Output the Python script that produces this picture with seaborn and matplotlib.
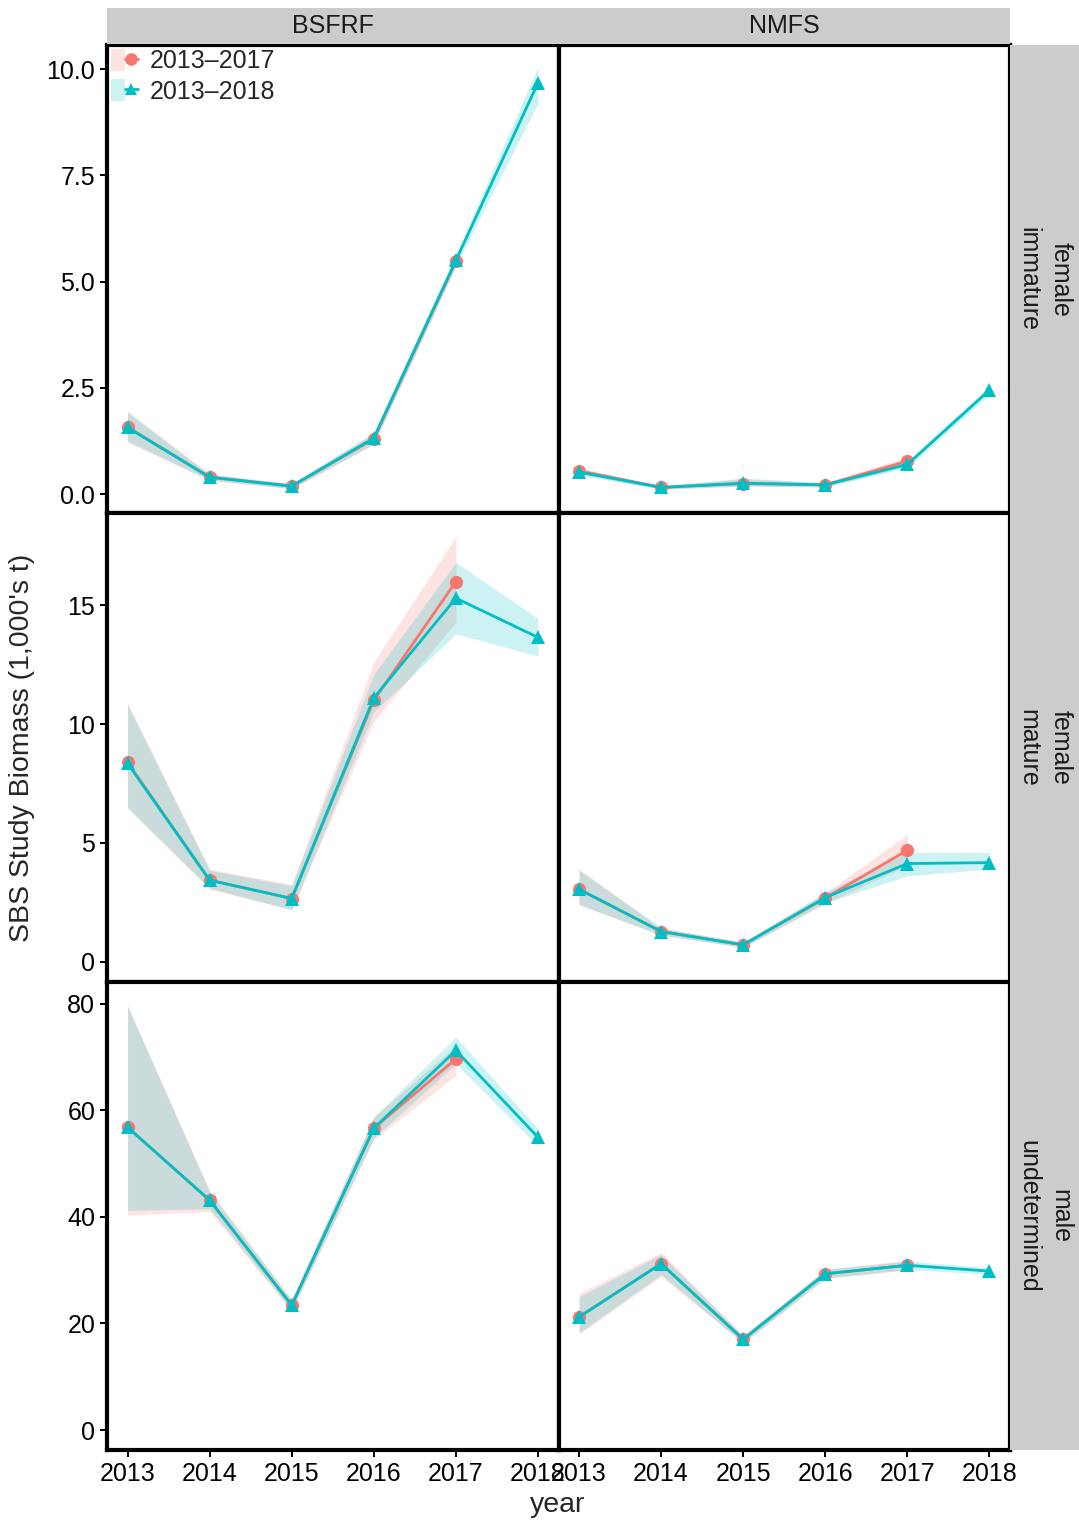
import pandas as pd
import seaborn as sns
import matplotlib.pyplot as plt
from matplotlib.lines import Line2D
from matplotlib.patches import Patch
from matplotlib.legend_handler import HandlerTuple
from matplotlib.ticker import FormatStrFormatter

# facets / categories
years = [2013, 2014, 2015, 2016, 2017, 2018]
surveys = ["BSFRF", "NMFS"]
groups = ["female\nimmature", "female\nmature", "male\nundetermined"]
periods = ["2013\u20132017", "2013\u20132018"]

# female immature, BSFRF
imm_bsfrf_17 = [1.58, 0.40, 0.19, 1.30, 5.48]
imm_bsfrf_17_lo = [1.22, 0.33, 0.13, 1.18, 5.35]
imm_bsfrf_17_hi = [1.96, 0.47, 0.25, 1.44, 5.62]
imm_bsfrf_18 = [1.57, 0.40, 0.19, 1.32, 5.50, 9.68]
imm_bsfrf_18_lo = [1.25, 0.33, 0.13, 1.18, 5.38, 9.20]
imm_bsfrf_18_hi = [1.92, 0.47, 0.25, 1.45, 5.65, 10.05]

# female immature, NMFS
imm_nmfs_17 = [0.55, 0.16, 0.25, 0.22, 0.78]
imm_nmfs_17_lo = [0.47, 0.12, 0.19, 0.17, 0.66]
imm_nmfs_17_hi = [0.62, 0.20, 0.36, 0.27, 0.88]
imm_nmfs_18 = [0.52, 0.16, 0.26, 0.22, 0.70, 2.45]
imm_nmfs_18_lo = [0.45, 0.12, 0.19, 0.17, 0.62, 2.35]
imm_nmfs_18_hi = [0.60, 0.20, 0.38, 0.27, 0.78, 2.55]

# female mature, BSFRF
mat_bsfrf_17 = [8.40, 3.43, 2.66, 11.0, 16.0]
mat_bsfrf_17_lo = [6.45, 3.05, 2.20, 10.1, 14.3]
mat_bsfrf_17_hi = [10.9, 3.90, 3.25, 12.6, 17.9]
mat_bsfrf_18 = [8.35, 3.43, 2.66, 11.1, 15.3, 13.65]
mat_bsfrf_18_lo = [6.50, 3.10, 2.18, 10.5, 13.8, 12.86]
mat_bsfrf_18_hi = [10.8, 3.85, 3.20, 12.1, 16.8, 14.45]

# female mature, NMFS
mat_nmfs_17 = [3.05, 1.27, 0.71, 2.68, 4.69]
mat_nmfs_17_lo = [2.40, 1.12, 0.60, 2.45, 4.05]
mat_nmfs_17_hi = [3.90, 1.42, 0.82, 2.90, 5.35]
mat_nmfs_18 = [3.05, 1.27, 0.71, 2.70, 4.13, 4.17]
mat_nmfs_18_lo = [2.40, 1.12, 0.60, 2.48, 3.61, 3.90]
mat_nmfs_18_hi = [3.85, 1.42, 0.82, 2.92, 4.60, 4.60]

# male undetermined, BSFRF
male_bsfrf_17 = [56.8, 43.1, 23.4, 56.6, 69.6]
male_bsfrf_17_lo = [40.3, 41.0, 22.3, 54.5, 66.5]
male_bsfrf_17_hi = [79.6, 45.0, 24.5, 58.7, 72.1]
male_bsfrf_18 = [56.8, 43.1, 23.4, 56.6, 71.2, 54.9]
male_bsfrf_18_lo = [41.2, 41.5, 22.5, 54.8, 68.7, 53.3]
male_bsfrf_18_hi = [79.5, 44.6, 24.4, 58.7, 73.7, 56.5]

# male undetermined, NMFS
male_nmfs_17 = [21.2, 31.2, 17.0, 29.3, 30.9]
male_nmfs_17_lo = [18.0, 28.8, 16.3, 28.4, 30.0]
male_nmfs_17_hi = [25.6, 33.3, 17.7, 30.2, 31.8]
male_nmfs_18 = [21.2, 31.2, 17.0, 29.3, 30.9, 29.8]
male_nmfs_18_lo = [18.2, 29.2, 16.3, 28.5, 30.1, 29.2]
male_nmfs_18_hi = [25.0, 32.9, 17.7, 30.1, 31.7, 30.4]

series = [
    (groups[0], "BSFRF", periods[0], imm_bsfrf_17, imm_bsfrf_17_lo, imm_bsfrf_17_hi),
    (groups[0], "BSFRF", periods[1], imm_bsfrf_18, imm_bsfrf_18_lo, imm_bsfrf_18_hi),
    (groups[0], "NMFS", periods[0], imm_nmfs_17, imm_nmfs_17_lo, imm_nmfs_17_hi),
    (groups[0], "NMFS", periods[1], imm_nmfs_18, imm_nmfs_18_lo, imm_nmfs_18_hi),
    (groups[1], "BSFRF", periods[0], mat_bsfrf_17, mat_bsfrf_17_lo, mat_bsfrf_17_hi),
    (groups[1], "BSFRF", periods[1], mat_bsfrf_18, mat_bsfrf_18_lo, mat_bsfrf_18_hi),
    (groups[1], "NMFS", periods[0], mat_nmfs_17, mat_nmfs_17_lo, mat_nmfs_17_hi),
    (groups[1], "NMFS", periods[1], mat_nmfs_18, mat_nmfs_18_lo, mat_nmfs_18_hi),
    (groups[2], "BSFRF", periods[0], male_bsfrf_17, male_bsfrf_17_lo, male_bsfrf_17_hi),
    (groups[2], "BSFRF", periods[1], male_bsfrf_18, male_bsfrf_18_lo, male_bsfrf_18_hi),
    (groups[2], "NMFS", periods[0], male_nmfs_17, male_nmfs_17_lo, male_nmfs_17_hi),
    (groups[2], "NMFS", periods[1], male_nmfs_18, male_nmfs_18_lo, male_nmfs_18_hi),
]

records = []
for g, s, p, est, lo, hi in series:
    for yr, e, l, h in zip(years, est, lo, hi):
        records.append({"group": g, "survey": s, "period": p, "year": yr,
                        "est": e, "lo": l, "hi": h})
df = pd.DataFrame(records)

palette = {periods[0]: "#F8766D", periods[1]: "#00BFC4"}
markers = {periods[0]: "o", periods[1]: "^"}
row_ylims = [(-0.45, 10.57), (-0.84, 18.87), (-3.75, 84.1)]
row_ticks = [[0, 2.5, 5, 7.5, 10], [0, 5, 10, 15], [0, 20, 40, 60, 80]]
FS = 18
TITLE_FS = 20.5

sns.set_theme(style="ticks")
plt.rcParams['font.family'] = ['Liberation Sans', 'DejaVu Sans']

W, H = 1079, 1522
fig, axes = plt.subplots(3, 2, figsize=(W / 100, H / 100), dpi=100, sharex=True, sharey='row')
fig.subplots_adjust(left=107 / W, right=1010 / W, top=1 - 45 / H, bottom=1 - 1450 / H,
                    hspace=0, wspace=0)

for i, g in enumerate(groups):
    for j, s in enumerate(surveys):
        ax = axes[i, j]
        sub = df[(df["group"] == g) & (df["survey"] == s)]
        for p in periods:
            d = sub[sub["period"] == p]
            ax.fill_between(d["year"], d["lo"], d["hi"], color=palette[p], alpha=0.2, lw=0)
        for p, ms in zip(periods, [9.5, 10]):
            d = sub[sub["period"] == p]
            sns.lineplot(data=d, x="year", y="est", color=palette[p], marker=markers[p],
                         markersize=ms, markeredgewidth=0, linewidth=2.0, ax=ax,
                         legend=False)
        ax.set_xlim(2012.75, 2018.25)
        ax.set_ylim(*row_ylims[i])
        ax.set_yticks(row_ticks[i])
        ax.set_xticks(years)
        ax.set_xlabel("")
        ax.set_ylabel("")
        for sp in ax.spines.values():
            sp.set_visible(True)
            sp.set_linewidth(3)
            sp.set_color("black")
        ax.tick_params(axis="both", labelsize=FS, length=5, width=1.4, color="black",
                       labelcolor="black", pad=3.5)
        if j == 1:
            ax.tick_params(axis="y", left=False, labelleft=False)
        if i < 2:
            ax.tick_params(axis="x", bottom=False, labelbottom=False)
    if i == 0:
        axes[i, 0].yaxis.set_major_formatter(FormatStrFormatter("%.1f"))

# facet strips
strip_col = "#CCCCCC"
for j, s in enumerate(surveys):
    pos = axes[0, j].get_position()
    sax = fig.add_axes([pos.x0, 1 - 44 / H, pos.width, 36 / H])
    sax.set_facecolor(strip_col)
    sax.set_xticks([])
    sax.set_yticks([])
    for sp in sax.spines.values():
        sp.set_visible(False)
    sax.text(0.5, 0.5, s, ha="center", va="center", fontsize=FS, color="#1A1A1A",
             transform=sax.transAxes)

for i, g in enumerate(groups):
    pos = axes[i, 1].get_position()
    sax = fig.add_axes([pos.x1, pos.y0, 69 / W, pos.height])
    sax.set_facecolor(strip_col)
    sax.set_xticks([])
    sax.set_yticks([])
    for sp in sax.spines.values():
        sp.set_visible(False)
    sax.text(0.5, 0.5, g, ha="center", va="center", fontsize=FS, rotation=-90,
             linespacing=1.45, color="#1A1A1A", transform=sax.transAxes)

# legend inside first panel
handles = []
for p in periods:
    patch = Patch(facecolor=palette[p], alpha=0.2, edgecolor="none")
    line = Line2D([], [], color=palette[p], marker=markers[p], markersize=9,
                  markeredgewidth=0, linewidth=2.0)
    handles.append((patch, line))
axes[0, 0].legend(handles, periods, handler_map={tuple: HandlerTuple(ndivide=None, pad=0)},
                  loc="upper left", bbox_to_anchor=(0, 1), frameon=False, fontsize=FS,
                  handlelength=1.1, handleheight=1.0, handletextpad=0.45,
                  labelspacing=0.22, borderpad=0.15, borderaxespad=0.0)

fig.text(22 / W, 1 - 748 / H, "SBS Study Biomass (1,000's t)", rotation=90,
         ha="center", va="center", fontsize=TITLE_FS)
fig.text(558 / W, 1 - 1505 / H, "year", ha="center", va="center", fontsize=TITLE_FS)

fig.savefig("out.png", dpi=100, facecolor="white")
